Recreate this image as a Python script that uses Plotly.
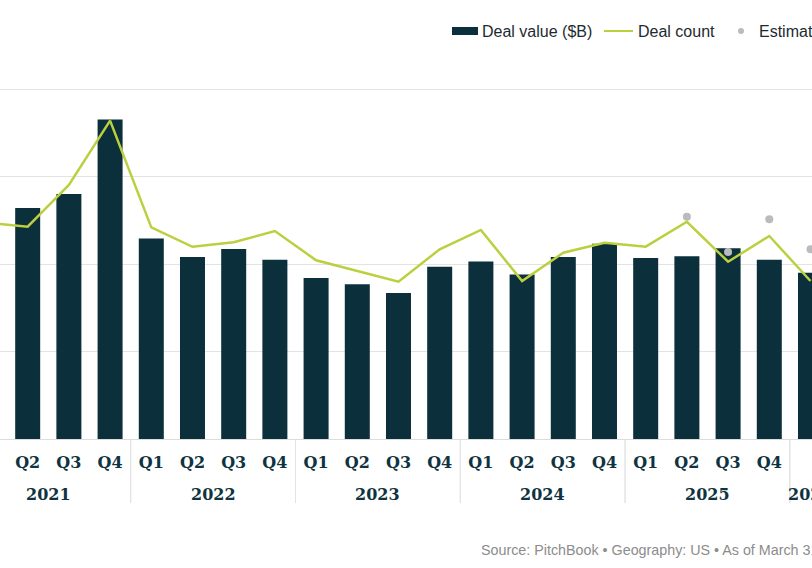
import plotly.graph_objects as go

years = ["2021"] * 4 + ["2022"] * 4 + ["2023"] * 4 + ["2024"] * 4 + ["2025"] * 4 + ["2026"]
quarters = ["Q1", "Q2", "Q3", "Q4"] * 5 + ["Q1"]
deal_value = [230, 264, 280, 365, 229, 208, 217, 205, 184, 177, 167, 197,
              203, 188, 208, 223, 207, 209, 218, 205, 190]
deal_count = [2474, 2426, 2903, 3638, 2419, 2197, 2248, 2377, 2043, 1918, 1798, 2168,
              2389, 1806, 2129, 2243, 2198, 2483, 2026, 2320, 1806]
est_count = [None] * 17 + [2541, 2137, 2511, 2168]
series_names = ["Deal value ($B)", "Deal count", "Estimated deal count"]

W, H = 812, 568
plot_bottom = 439
grid_px = 87.5
step_px = 41.2
x_start = 0.328

BAR_COLOR = "#0b2f3b"
LINE_COLOR = "#bccf3f"
DOT_COLOR = "#b9bbbf"

idx = list(range(len(quarters)))


def py(p):
    """pixel y (from top) -> paper y"""
    return (plot_bottom - p) / plot_bottom


def px(p):
    return p / W


fig = go.Figure()
fig.add_trace(go.Bar(x=idx, y=deal_value, name=series_names[0],
                     marker=dict(color=BAR_COLOR, line=dict(width=0)), yaxis="y"))
fig.add_trace(go.Scatter(x=idx, y=deal_count, name=series_names[1],
                         mode="lines", line=dict(color=LINE_COLOR, width=2.5), yaxis="y2"))
fig.add_trace(go.Scatter(x=idx, y=est_count, name=series_names[2],
                         mode="markers", marker=dict(color=DOT_COLOR, size=8), yaxis="y2"))

serif_bold = "Georgia, 'DejaVu Serif', serif"
label_color = "#0f3340"
legend_family = "'Liberation Sans', Arial, sans-serif"

shapes = []
annotations = []

# year group labels and dividers (from the category lists)
groups = []
for i, yv in enumerate(years):
    if not groups or groups[-1][0] != yv:
        groups.append([yv, i, i])
    else:
        groups[-1][2] = i
for yv, i0, i1 in groups:
    annotations.append(dict(text=yv, xref="x", yref="paper", x=(i0 + i1) / 2, y=py(494),
                            xanchor="center", yanchor="middle", showarrow=False,
                            font=dict(family=serif_bold, size=16, color=label_color, weight="bold")))
    for b in (i0 - 0.5, i1 + 0.5):
        shapes.append(dict(type="line", xref="x", yref="paper", x0=b, x1=b, y0=py(440), y1=py(503),
                           line=dict(color="#e3e3e3", width=1), layer="below"))

# manual legend
leg_y = 31
leg_font = dict(family=legend_family, size=16, color="#1e2a30")
shapes.append(dict(type="rect", xref="paper", yref="paper", x0=px(452), x1=px(478),
                   y0=py(leg_y + 4), y1=py(leg_y - 4), fillcolor=BAR_COLOR, line=dict(width=0)))
annotations.append(dict(text=series_names[0], xref="paper", yref="paper", x=px(480), y=py(leg_y),
                        xanchor="left", yanchor="middle", showarrow=False, font=leg_font))
shapes.append(dict(type="line", xref="paper", yref="paper", x0=px(604), x1=px(633),
                   y0=py(leg_y), y1=py(leg_y), line=dict(color=LINE_COLOR, width=2)))
annotations.append(dict(text=series_names[1], xref="paper", yref="paper", x=px(636), y=py(leg_y),
                        xanchor="left", yanchor="middle", showarrow=False, font=leg_font))
shapes.append(dict(type="circle", xref="paper", yref="paper", x0=px(738), x1=px(744),
                   y0=py(leg_y + 3), y1=py(leg_y - 3), fillcolor=DOT_COLOR, line=dict(width=0)))
annotations.append(dict(text=series_names[2], xref="paper", yref="paper", x=px(757), y=py(leg_y),
                        xanchor="left", yanchor="middle", showarrow=False, font=leg_font))

annotations.append(dict(text="Source: PitchBook • Geography: US • As of March 31, 2026",
                        xref="paper", yref="paper", x=px(479), xanchor="left",
                        y=py(550), yanchor="middle", showarrow=False,
                        font=dict(family="'Liberation Sans', Arial, sans-serif", size=14.3, color="#8c8c8c")))

ymax = plot_bottom / grid_px * 100
fig.update_layout(
    width=W, height=H,
    margin=dict(l=0, r=0, t=0, b=H - plot_bottom, autoexpand=False),
    paper_bgcolor="white", plot_bgcolor="white",
    bargap=1 - 25 / step_px,
    showlegend=False,
    xaxis=dict(range=[x_start, x_start + W / step_px], tickvals=idx, ticktext=quarters,
               showline=True, linecolor="#dcdcdc", linewidth=1,
               showgrid=False, zeroline=False, ticks="", ticklabelstandoff=9,
               tickfont=dict(family=serif_bold, size=16, color=label_color, weight="bold")),
    yaxis=dict(range=[0, ymax], tickvals=[100, 200, 300, 400], showticklabels=False,
               showgrid=True, gridcolor="#e3e3e3", gridwidth=1, zeroline=False, showline=False),
    yaxis2=dict(range=[0, ymax * 10], overlaying="y", side="right", showticklabels=False,
                showgrid=False, zeroline=False, showline=False),
    shapes=shapes,
    annotations=annotations,
)

fig.write_html("out.html")
